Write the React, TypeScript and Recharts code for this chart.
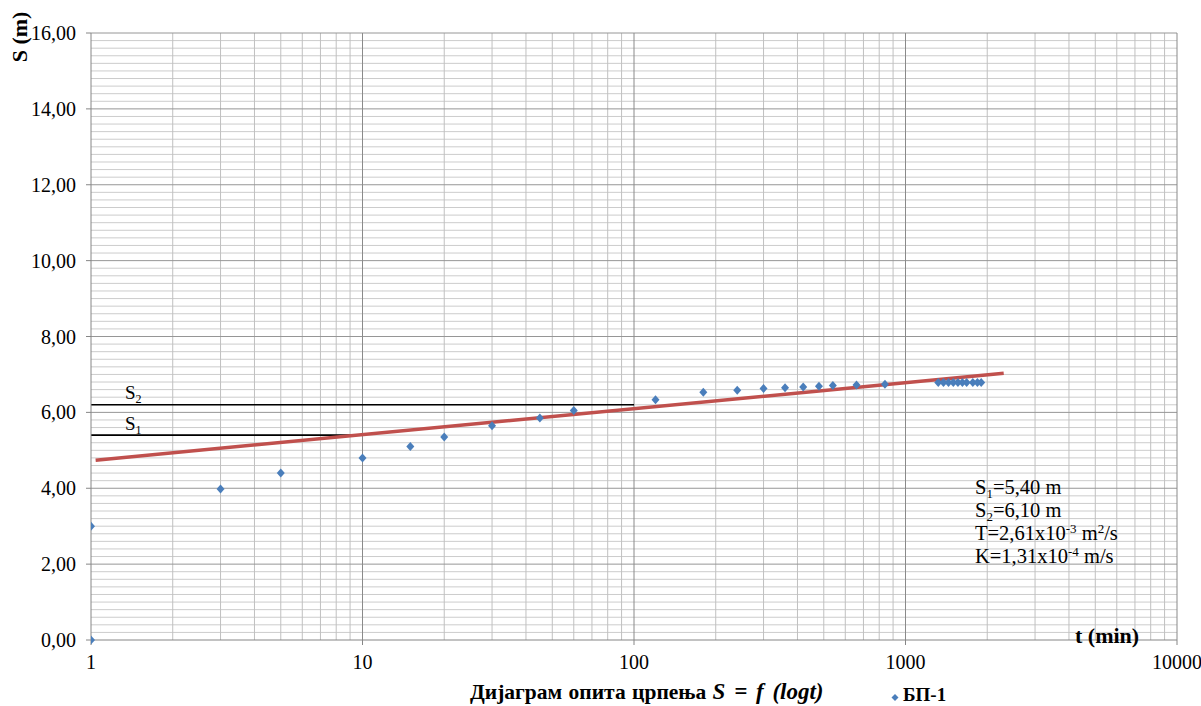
import React from 'react';
import {ComposedChart, XAxis, YAxis, Line, Scatter, ReferenceLine} from 'recharts';

// pumping test BP-1, drawdown vs time
const times = [1, 1, 3, 5, 10, 15, 20, 30, 45, 60, 120, 180, 240, 300, 360, 420, 480, 540, 660, 840,
  1320, 1380, 1440, 1500, 1560, 1620, 1680, 1770, 1840, 1900];
const drawdowns = [0, 3.0, 3.98, 4.4, 4.8, 5.1, 5.35, 5.65, 5.85, 6.05, 6.33, 6.53, 6.58, 6.63, 6.65, 6.67, 6.69, 6.71, 6.72, 6.74,
  6.79, 6.79, 6.79, 6.79, 6.79, 6.79, 6.79, 6.79, 6.79, 6.79];

// log trend line ends
const trendT = [1.04, 2300];
const trendS = [4.74, 7.03];

// S1 / S2 construction lines
const s1Line = [{t: 1, s: 5.4}, {t: 10, s: 5.4}];
const s2Line = [{t: 1, s: 6.2}, {t: 100, s: 6.2}];

const xTicks = [1, 10, 100, 1000, 10000];
const yTicks = [0, 2, 4, 6, 8, 10, 12, 14, 16];

const points = times.map((t, i) => ({t, s: drawdowns[i]}));
const trend = trendT.map((t, i) => ({t, s: trendS[i]}));

const xMinor: number[] = [];
[1, 10, 100, 1000].forEach(d => {
  for (let k = 2; k <= 9; k++) xMinor.push(d * k);
});
const yMinor: number[] = [];
for (let i = 1; i < 80; i++) {
  if (i % 10 !== 0) yMinor.push(i / 5);
}

const FONT = '"Liberation Serif", "Times New Roman", "DejaVu Serif", serif';
const BLUE = '#4a7ebb';

const Diamond = (props: any) => {
  const {cx, cy} = props;
  if (cx == null || cy == null) return <g />;
  return <polygon points={`${cx},${cy - 4.5} ${cx + 4},${cy} ${cx},${cy + 4.5} ${cx - 4},${cy}`} fill={BLUE} />;
};

const fmtY = (v: number) => v.toFixed(2).replace('.', ',');

export default function App() {
  return (
    <div style={{position: 'absolute', left: 0, top: 0, width: 1201, height: 706, background: '#fff', fontFamily: FONT}}>
      <ComposedChart width={1201} height={706} margin={{top: 33, right: 24, left: 0, bottom: 0}} style={{fontFamily: FONT}}>
        <XAxis
          dataKey="t"
          type="number"
          scale="log"
          domain={[1, 10000]}
          ticks={xTicks}
          interval={0}
          allowDataOverflow
          height={66}
          stroke="#868686"
          tickSize={5}
          tickMargin={10}
          tick={{fontSize: 20, fill: '#000', style: {fontFamily: FONT}}}
        />
        <YAxis
          dataKey="s"
          type="number"
          domain={[0, 16]}
          ticks={yTicks}
          interval={0}
          width={91}
          stroke="#868686"
          tickSize={5}
          tickMargin={10}
          tickFormatter={fmtY}
          tick={{fontSize: 20, fill: '#000', style: {fontFamily: FONT}}}
        />
        {yMinor.map(v => (
          <ReferenceLine key={`ym${v}`} y={v} stroke="#cccccc" strokeWidth={1} />
        ))}
        {xMinor.map(v => (
          <ReferenceLine key={`xm${v}`} x={v} stroke="#c0c0c0" strokeWidth={1} />
        ))}
        {yTicks.slice(1).map(v => (
          <ReferenceLine key={`yM${v}`} y={v} stroke="#969696" strokeWidth={1} />
        ))}
        {xTicks.slice(1).map(v => (
          <ReferenceLine key={`xM${v}`} x={v} stroke="#8a8a8a" strokeWidth={1} />
        ))}
        <Line data={s2Line} dataKey="s" stroke="#000" strokeWidth={1.6} dot={false} isAnimationActive={false} />
        <Line data={s1Line} dataKey="s" stroke="#000" strokeWidth={1.6} dot={false} isAnimationActive={false} />
        <Line data={trend} dataKey="s" stroke="#c0504d" strokeWidth={3.5} dot={false} isAnimationActive={false} />
        <Scatter data={points} dataKey="s" fill={BLUE} shape={<Diamond />} isAnimationActive={false} />
      </ComposedChart>
      <svg
        width={1201}
        height={706}
        style={{position: 'absolute', left: 0, top: 0, pointerEvents: 'none', fontFamily: FONT}}>
        <text x={125} y={399} fontSize={19}>
          S<tspan fontSize={12} dy={4}>2</tspan>
        </text>
        <text x={125} y={430} fontSize={19}>
          S<tspan fontSize={12} dy={4}>1</tspan>
        </text>
        <g fontSize={20.5}>
          <text x={975} y={494}>
            S<tspan fontSize={13} dy={4}>1</tspan>
            <tspan dy={-4}>=5,40 m</tspan>
          </text>
          <text x={975} y={517}>
            S<tspan fontSize={13} dy={4}>2</tspan>
            <tspan dy={-4}>=6,10 m</tspan>
          </text>
          <text x={975} y={540}>
            T=2,61x10<tspan fontSize={13} dy={-7}>-3</tspan>
            <tspan dy={7}> m</tspan>
            <tspan fontSize={13} dy={-7}>2</tspan>
            <tspan dy={7}>/s</tspan>
          </text>
          <text x={975} y={563}>
            K=1,31x10<tspan fontSize={13} dy={-7}>-4</tspan>
            <tspan dy={7}> m/s</tspan>
          </text>
        </g>
        <text x={0} y={0} fontSize={22} fontWeight="bold" textAnchor="middle" transform="translate(27 37) rotate(-90)">
          S (m)
        </text>
        <text x={1075} y={643} fontSize={22} fontWeight="bold">
          t (min)
        </text>
        <text x={470} y={699} fontSize={21.5} fontWeight="bold" wordSpacing={1}>
          Дијаграм опита црпења{' '}
          <tspan fontStyle="italic" fontSize={23} wordSpacing={3}>
            S = f (logt)
          </tspan>
        </text>
        <polygon points="895,694 898.5,697.5 895,701 891.5,697.5" fill={BLUE} />
        <text x={903} y={701} fontSize={19} fontWeight="bold">
          БП-1
        </text>
      </svg>
    </div>
  );
}
